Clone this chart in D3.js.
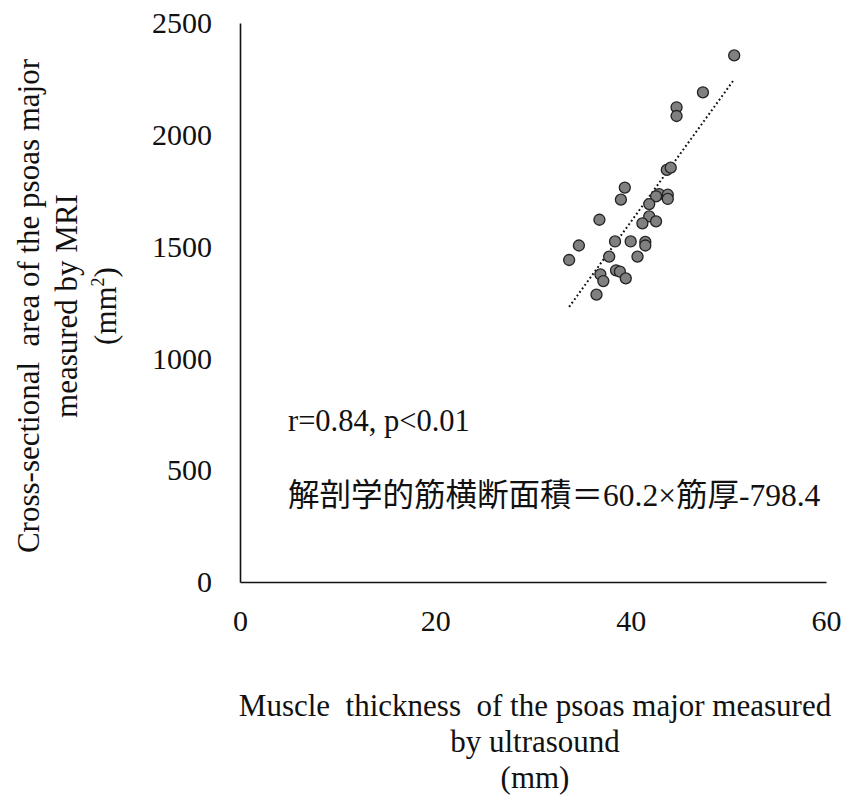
<!DOCTYPE html>
<html>
<head>
<meta charset="utf-8">
<script src="https://cdn.jsdelivr.net/npm/d3@7"></script>
<style>
  body { margin: 0; background: #fff; }
  text { font-family: "Liberation Serif", "Noto Sans CJK JP", serif; fill: #111; white-space: pre; }
</style>
</head>
<body>
<div id="scatter"></div>
<script>
// muscle thickness by ultrasound (mm)
var thickness = [50.6, 47.4, 44.7, 44.7, 43.7, 44.1, 39.4, 39.0, 42.9, 42.6, 43.8,
  43.8, 41.9, 36.8, 41.9, 41.2, 42.6, 34.7, 38.4, 40.0, 41.5, 41.5, 33.7, 37.8,
  40.7, 36.9, 37.2, 38.5, 38.9, 39.5, 36.5];
// cross-sectional area by MRI (mm2)
var area = [2355, 2190, 2123, 2084, 1843, 1853, 1764, 1710, 1735, 1725, 1732,
  1713, 1690, 1620, 1635, 1604, 1613, 1505, 1523, 1523, 1521, 1505, 1440, 1455,
  1455, 1376, 1346, 1394, 1388, 1358, 1285];

var xTicks = [0, 20, 40, 60];
var yTicks = [0, 500, 1000, 1500, 2000, 2500];

// regression shown on the chart
var slope = 60.2;
var intercept = -798.4;

var wide = 844;
var high = 796;

var plotLeft = 240;
var plotRight = 826;
var plotTop = 23;
var plotBottom = 582;

var svg = d3.select("#scatter")
  .append("svg")
  .attr("width", wide)
  .attr("height", high);

var xScale = d3.scaleLinear().domain([0, 60]).range([plotLeft, plotRight]);
var yScale = d3.scaleLinear().domain([0, 2500]).range([plotBottom, plotTop]);

var xAxis = d3.axisBottom(xScale).tickValues(xTicks).tickSize(0).tickPadding(28)
  .tickFormat(d3.format("d"));
var yAxis = d3.axisLeft(yScale).tickValues(yTicks).tickSize(0).tickPadding(28)
  .tickFormat(d3.format("d"));

svg.append("g")
  .attr("class", "xAxis")
  .attr("transform", "translate(0," + plotBottom + ")")
  .call(xAxis);
svg.append("g")
  .attr("class", "yAxis")
  .attr("transform", "translate(" + plotLeft + ",0)")
  .call(yAxis);

svg.selectAll(".domain").attr("stroke", "#111").attr("stroke-width", 1.6);
svg.selectAll(".tick text")
  .attr("font-size", 30)
  .attr("font-family", "Liberation Serif")
  .attr("fill", "#111");

// dotted trendline over the data range
var xMin = d3.min(thickness);
var xMax = d3.max(thickness);
svg.append("line")
  .attr("x1", xScale(xMin))
  .attr("y1", yScale(slope * xMin + intercept))
  .attr("x2", xScale(xMax))
  .attr("y2", yScale(slope * xMax + intercept))
  .attr("stroke", "#111")
  .attr("stroke-width", 2)
  .attr("stroke-dasharray", "1.8,2.6");

var data = thickness.map(function(d, i) {
  return { x: d, y: area[i] };
});

svg.selectAll("circle")
  .data(data)
  .enter()
  .append("circle")
  .attr("cx", function(d) { return xScale(d.x); })
  .attr("cy", function(d) { return yScale(d.y); })
  .attr("r", 5.5)
  .attr("fill", "#808080")
  .attr("stroke", "#222")
  .attr("stroke-width", 1.3);

// annotations
svg.append("text")
  .attr("x", 288)
  .attr("y", 431)
  .attr("font-size", 30.5)
  .text("r=0.84, p<0.01");

svg.append("text")
  .attr("x", 288)
  .attr("y", 506)
  .attr("font-size", 31.5)
  .text("解剖学的筋横断面積＝60.2×筋厚-798.4");

// x title
var xTitle = ["Muscle  thickness  of the psoas major measured", "by ultrasound", "(mm)"];
svg.append("g")
  .selectAll("text")
  .data(xTitle)
  .enter()
  .append("text")
  .attr("x", 535)
  .attr("y", function(d, i) { return 716 + i * 36; })
  .attr("text-anchor", "middle")
  .attr("font-size", 31)
  .text(function(d) { return d; });

// y title
var yTitle = svg.append("g")
  .attr("transform", "translate(0,306) rotate(-90)");
yTitle.append("text")
  .attr("x", 0).attr("y", 39)
  .attr("text-anchor", "middle")
  .attr("font-size", 31)
  .text("Cross-sectional  area of the psoas major");
yTitle.append("text")
  .attr("x", 0).attr("y", 77)
  .attr("text-anchor", "middle")
  .attr("font-size", 31)
  .text("measured by MRI");
var mm = yTitle.append("text")
  .attr("x", 0).attr("y", 116)
  .attr("text-anchor", "middle")
  .attr("font-size", 31);
mm.append("tspan").text("(mm");
mm.append("tspan").attr("font-size", 18).attr("dy", -12).text("2");
mm.append("tspan").attr("dy", 12).text(")");
</script>
</body>
</html>
